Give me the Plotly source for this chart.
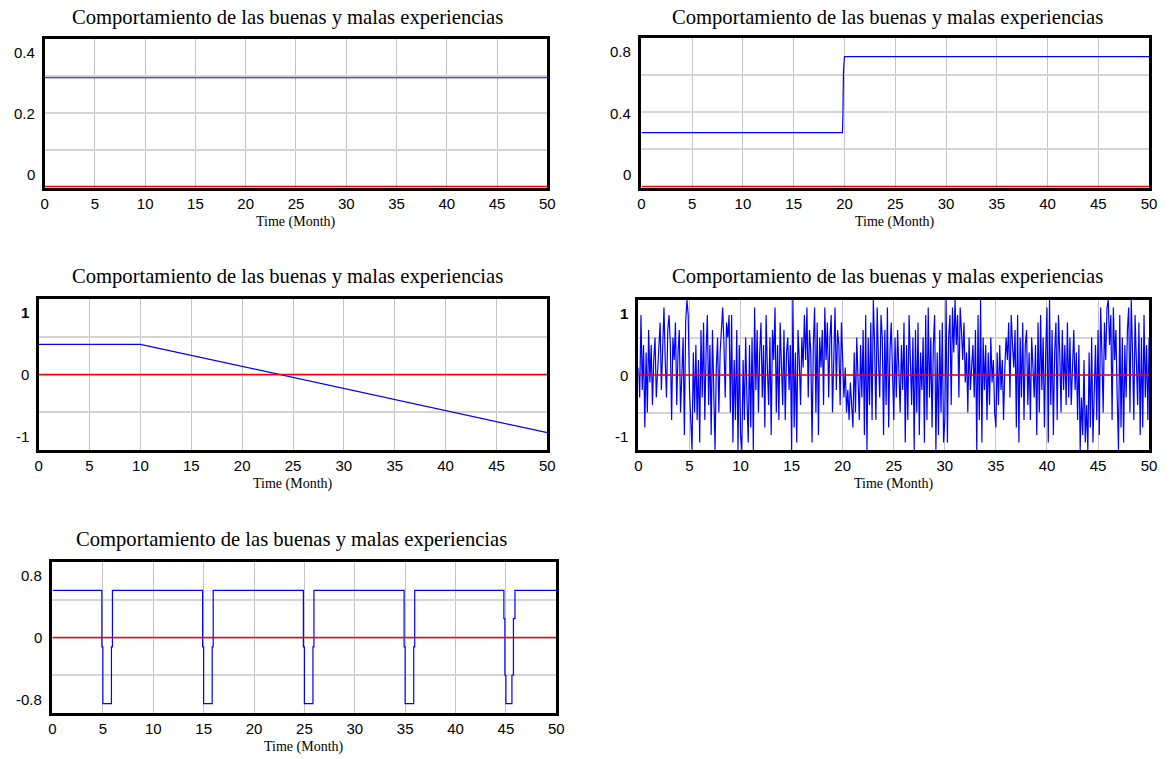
import plotly.graph_objects as go

W, H = 1169, 759

TITLE = "Comportamiento de las buenas y malas experiencias"
X_LABEL = "Time (Month)"
x_ticks = [0, 5, 10, 15, 20, 25, 30, 35, 40, 45, 50]

# Panel 1: constant good experience, zero bad experience
t1 = [0, 50]
good1 = [0.295, 0.295]
bad1 = [0, 0]
ylab1 = ["0.4", "0.2", "0"]

# Panel 2: step at month 20
t2 = [0, 19.8, 19.85, 19.9, 20.0, 50]
good2 = [0.29, 0.29, 0.4, 0.62, 0.7, 0.7]
bad2 = [0, 0]
ylab2 = ["0.8", "0.4", "0"]

# Panel 3: flat then declining
t3 = [0, 10, 50]
good3 = [0.4, 0.4, -0.77]
bad3 = [0, 0]
ylab3 = ["<b>1</b>", "0", "-1"]

# Panel 4: noisy series (8 readings per month)
noise4 = [
    0.1, -0.3, 0.8, -0.2, 0.4, -0.7, 0.3, -0.5,
    0.6, -0.1, 0.4, -0.4, 0.2, 0.5, -0.3, 0.1,
    0.3, 0.7, -0.2, 0.5, 0.9, 0.2, -0.3, 0.6,
    0.8, 0.4, -0.6, 0.5, 0.2, 0.7, -0.4, 0.3,
    0.6, -0.5, 0.1, 0.5, -0.8, 0.7, 1.0, 0.8,
    -0.2, -0.7, -1.0, 0.3, -0.5, 0.4, -0.6, 0.2,
    -0.9, 0.6, -0.3, 0.7, -0.6, 0.3, 0.8, -0.4,
    0.4, -0.8, 0.6, -0.2, -1.0, 0.1, 0.5, -0.5,
    0.3, 0.6, 0.9, 0.4, -0.3, 0.7, 0.5, 0.8,
    -0.5, 0.8, -0.9, 0.2, -0.6, 0.6, -1.0, 0.4,
    -0.8, -1.0, 0.2, -0.6, 0.5, -0.3, -0.9, 0.4,
    -0.7, 0.5, -1.0, 0.9, -0.2, 0.6, -0.5, 0.3,
    0.7, -0.3, 0.4, -0.7, 0.8, 0.1, -0.4, 0.5,
    -0.8, 0.6, 0.2, 0.9, -0.5, 0.4, -0.6, 0.7,
    0.2, -0.4, 0.6, -0.6, 0.3, 0.5, -0.2, 0.4,
    -1.0, 1.0, -0.7, 0.3, -0.9, 0.6, 0.2, -0.4,
    0.5, 0.1, 0.8, 0.2, 0.9, -0.3, 0.6, 0.3,
    -0.9, 0.4, 0.9, -0.5, 0.7, -0.8, 0.5, 0.1,
    0.6, -0.4, 0.9, 0.2, 0.7, -0.3, 0.5, 0.8,
    -0.5, 0.3, 0.9, -0.2, 0.6, 0.4, -0.4, 0.7,
    0.2, -0.3, 0.1, -0.5, -0.2, -0.6, -0.1, -0.4,
    -0.7, 0.3, -0.5, 0.5, -0.2, -0.6, 0.4, -0.3,
    0.6, -0.8, 0.8, -1.0, 0.5, -0.4, 0.7, -0.6,
    1.0, 0.4, -0.6, 0.9, 0.2, -0.3, 0.8, 0.5,
    -0.8, 0.6, -0.4, 0.9, -0.7, 0.3, 0.7, -0.2,
    -0.6, 0.5, -0.3, 0.6, 0.1, -0.5, 0.4, -0.2,
    0.7, -0.9, 0.4, -0.6, 0.8, 0.2, -0.4, 0.5,
    -1.0, 0.6, -0.5, 0.7, -0.8, 0.3, -0.2, 0.5,
    -0.9, 0.8, -0.6, 0.9, -0.3, 0.5, -0.7, 0.4,
    0.8, -1.0, 0.3, -0.8, 0.6, -0.5, 0.7, -0.9,
    -0.6, 1.0, -0.9, 0.5, 0.8, -0.4, 0.9, 0.3,
    1.0, 0.4, 0.8, -0.3, 0.9, 0.6, 0.2, 0.7,
    -0.1, 0.3, -0.5, 0.5, -0.2, 0.1, 0.4, -0.3,
    0.6, -1.0, 0.8, -0.6, 1.0, -0.9, 0.5, -0.2,
    0.4, -0.6, 0.3, -0.4, 0.5, -0.1, 0.2, -0.5,
    -0.7, 0.3, -0.4, 0.4, -0.2, 0.2, -0.6, 0.1,
    0.5, 0.2, 0.7, -0.3, 0.8, 0.4, 0.1, 0.6,
    -0.7, 0.8, -0.9, 0.5, -0.3, 0.7, -0.6, 0.4,
    0.6, -0.4, 0.3, -0.6, 0.5, 0.1, -0.3, 0.4,
    -0.8, 0.7, -0.5, 0.8, -0.2, 0.5, -0.7, 0.3,
    0.9, -0.9, 1.0, -0.4, 0.6, -0.8, 0.3, 0.7,
    -0.6, 0.8, 0.3, -0.5, 0.6, -0.2, 0.4, -0.4,
    0.7, -0.3, 0.5, -0.4, 0.2, 0.6, -0.2, 0.3,
    -0.6, 0.4, -1.0, -0.3, -0.8, 0.2, -0.9, -0.4,
    -1.0, 0.3, -0.7, 0.5, -0.9, -0.2, 0.4, -0.6,
    0.6, -0.8, 0.9, 0.3, -0.5, 0.7, 0.2, 0.9,
    1.0, 0.4, 0.8, -0.6, 0.9, 0.2, 0.6, -0.3,
    -1.0, 0.8, -0.7, 0.5, -0.9, 0.4, -0.3, 0.6,
    0.9, -0.5, 1.0, 0.3, -0.6, 0.8, 0.2, -0.4,
    0.7, -0.8, 0.5, -0.7, 0.8, -0.3, 0.4, -0.6,
    0.5,
]
t4 = [i * 0.125 for i in range(len(noise4))]
bad4 = [0, 0]
ylab4 = ["<b>1</b>", "0", "-1"]

# Panel 5: periodic dips
t5 = [0, 4.9, 4.9, 5.0, 5.0, 5.85, 5.85, 5.95, 5.95,
      14.9, 14.9, 15.0, 15.0, 15.85, 15.85, 15.95, 15.95,
      24.9, 24.9, 25.0, 25.0, 25.85, 25.85, 25.95, 25.95,
      34.9, 34.9, 35.0, 35.0, 35.85, 35.85, 35.95, 35.95,
      44.8, 44.8, 44.9, 44.9, 45.0, 45.0, 45.6, 45.6, 45.75, 45.75, 45.9, 45.9, 50]
good5 = [0.5, 0.5, -0.1, -0.1, -0.7, -0.7, -0.1, -0.1, 0.5,
         0.5, -0.1, -0.1, -0.7, -0.7, -0.1, -0.1, 0.5,
         0.5, -0.1, -0.1, -0.7, -0.7, -0.1, -0.1, 0.5,
         0.5, -0.1, -0.1, -0.7, -0.7, -0.1, -0.1, 0.5,
         0.5, 0.2, 0.2, -0.4, -0.4, -0.7, -0.7, -0.4, -0.4, 0.2, 0.2, 0.5, 0.5]
bad5 = [0, 0]
ylab5 = ["0.8", "0", "-0.8"]

panels = [
    dict(box=(41, 549, 39, 188), tx=286, ty=17, yr=[-0.004, 0.4], grid=[0.1, 0.2, 0.3],
         t=t1, g=good1, b=bad1, lab=ylab1),
    dict(box=(644, 1157, 38, 188), tx=893, ty=17, yr=[-0.008, 0.8], grid=[0.2, 0.4, 0.6],
         t=t2, g=good2, b=bad2, lab=ylab2),
    dict(box=(35, 549, 299, 450), tx=286, ty=276, yr=[-1, 1], grid=[-0.5, 0, 0.5],
         t=t3, g=good3, b=bad3, lab=ylab3),
    dict(box=(641, 1157, 300, 450), tx=893, ty=276, yr=[-1, 1], grid=[-0.5, 0, 0.5],
         t=t4, g=noise4, b=bad4, lab=ylab4),
    dict(box=(49, 558, 562, 713), tx=290, ty=539, yr=[-0.8, 0.8], grid=[-0.4, 0, 0.4],
         t=t5, g=good5, b=bad5, lab=ylab5),
]

fig = go.Figure()
annotations = []
tick_font = dict(family="Liberation Sans", size=15, color="black")

for i, p in enumerate(panels, start=1):
    x0, x1, y0, y1 = p["box"]
    xa = "x" if i == 1 else f"x{i}"
    ya = "y" if i == 1 else f"y{i}"
    xkey = "xaxis" if i == 1 else f"xaxis{i}"
    ykey = "yaxis" if i == 1 else f"yaxis{i}"
    fig.add_trace(go.Scatter(x=p["t"], y=p["g"], mode="lines",
                             line=dict(color="#0000ff", width=1.2),
                             xaxis=xa, yaxis=ya, showlegend=False, hoverinfo="skip"))
    fig.add_trace(go.Scatter(x=[0, 50], y=p["b"], mode="lines",
                             line=dict(color="#ff0000", width=1.6),
                             xaxis=xa, yaxis=ya, showlegend=False, hoverinfo="skip"))
    fig.layout[xkey] = dict(
        domain=[x0 / W, x1 / W], anchor=ya, range=[0, 50],
        tickmode="array", tickvals=x_ticks, ticks="", tickfont=tick_font,
        showgrid=True, gridcolor="#c4c4c4", gridwidth=1, zeroline=False,
        showline=True, mirror=True, linecolor="black", linewidth=3,
        fixedrange=True,
    )
    fig.layout[ykey] = dict(
        domain=[1 - y1 / H, 1 - y0 / H], anchor=xa, range=p["yr"],
        tickmode="array", tickvals=p["grid"], showticklabels=False, ticks="",
        showgrid=True, gridcolor="#d4d4d4", gridwidth=2, zeroline=False,
        showline=True, mirror=True, linecolor="black", linewidth=3,
        fixedrange=True,
    )
    annotations.append(dict(text=TITLE, x=p["tx"] / W, y=1 - p["ty"] / H,
                            xref="paper", yref="paper", xanchor="center", yanchor="middle",
                            showarrow=False,
                            font=dict(family="Liberation Serif", size=20.6, color="black")))
    annotations.append(dict(text=X_LABEL, x=0.5, y=0, xref=f"{xa} domain", yref=f"{ya} domain",
                            xanchor="center", yanchor="middle", yshift=-34, showarrow=False,
                            font=dict(family="Liberation Serif", size=14, color="black")))
    for lab, yy, anc in zip(p["lab"], [1, 0.5, 0], ["top", "middle", "bottom"]):
        annotations.append(dict(text=lab, x=0, y=yy, xref=f"{xa} domain", yref=f"{ya} domain",
                                xanchor="right", yanchor=anc, xshift=-8,
                                yshift=-3 if anc == "top" else (3 if anc == "bottom" else 0),
                                showarrow=False, font=tick_font))

fig.update_layout(width=W, height=H, margin=dict(l=0, r=0, t=0, b=0),
                  paper_bgcolor="white", plot_bgcolor="white",
                  annotations=annotations, showlegend=False)

fig.write_html("out.html", config={"displayModeBar": False},
               post_script="document.body.style.margin='0';")
